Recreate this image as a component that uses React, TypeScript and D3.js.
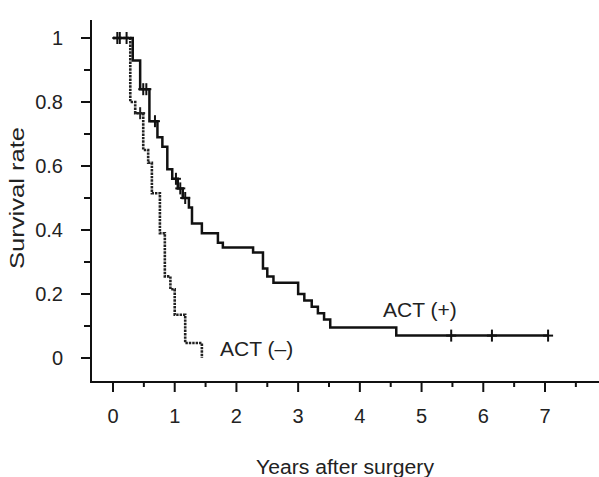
import React from "react";
import * as d3 from "d3";

const W = 599;
const H = 477;

const xTicks = [0, 1, 2, 3, 4, 5, 6, 7];
const xMinorTicks = [0.5, 1.5, 2.5, 3.5, 4.5, 5.5, 6.5, 7.5];
const yTicks = [0, 0.2, 0.4, 0.6, 0.8, 1];
const yTickLabels = ["0", "0.2", "0.4", "0.6", "0.8", "1"];
const yMinorTicks = [0.1, 0.3, 0.5, 0.7, 0.9];

// ACT (+) : event times (years) and survival after each event
const actPosTimes = [0.32, 0.44, 0.59, 0.72, 0.8, 0.88, 0.96, 1.05, 1.13, 1.23, 1.28, 1.44, 1.7, 1.78, 2.27, 2.43, 2.5, 2.6, 3.0, 3.1, 3.22, 3.32, 3.42, 3.52, 4.59];
const actPosSurv = [0.93, 0.84, 0.74, 0.69, 0.66, 0.59, 0.56, 0.53, 0.5, 0.47, 0.42, 0.39, 0.36, 0.345, 0.33, 0.28, 0.255, 0.235, 0.2, 0.18, 0.16, 0.14, 0.12, 0.095, 0.07];
const actPosEnd = 7.05;
const actPosCensor = [0.07, 0.11, 0.22, 0.49, 0.54, 0.68, 1.02, 1.09, 1.17, 5.48, 6.14, 7.05];

// ACT (-)
const actNegTimes = [0.28, 0.36, 0.49, 0.57, 0.63, 0.76, 0.84, 0.93, 1.0, 1.17, 1.44];
const actNegSurv = [0.8, 0.765, 0.65, 0.61, 0.515, 0.39, 0.255, 0.215, 0.135, 0.047, 0.0];
const actNegEnd = 1.44;
const actNegCensor = [0.44];

const FONT = "'Liberation Sans', Arial, Helvetica, sans-serif";

function survAt(times: number[], surv: number[], t: number) {
  let s = 1;
  for (let i = 0; i < times.length; i++) if (times[i] <= t) s = surv[i];
  return s;
}

export default function App() {
  const x = d3.scaleLinear().domain([0, 7]).range([113, 545]);
  const y = d3.scaleLinear().domain([0, 1]).range([358, 38]);
  const axisX0 = 91;
  const axisY0 = 382;
  const axisTop = 20;
  const axisRight = 599;

  const line = d3
    .line<[number, number]>()
    .x((d) => x(d[0]))
    .y((d) => y(d[1]))
    .curve(d3.curveStepAfter);

  const mkPts = (times: number[], surv: number[], end: number): [number, number][] => {
    const pts: [number, number][] = [[0, 1]];
    times.forEach((t, i) => pts.push([t, surv[i]]));
    pts.push([end, surv[surv.length - 1]]);
    return pts;
  };

  const posPath = line(mkPts(actPosTimes, actPosSurv, actPosEnd)) || "";
  const negPath = line(mkPts(actNegTimes, actNegSurv, actNegEnd)) || "";

  return (
    <svg
      width={W}
      height={H}
      style={{ position: "absolute", left: 0, top: 0, background: "#fff" }}
      fontFamily={FONT}
    >
      <rect x={0} y={0} width={W} height={H} fill="#fff" />
      {/* axes */}
      <path
        d={`M${axisX0},${axisTop}V${axisY0}H${axisRight}`}
        fill="none"
        stroke="#111"
        strokeWidth={2}
      />
      {yTicks.map((v, i) => (
        <g key={"yt" + i}>
          <line x1={axisX0 - 10} x2={axisX0} y1={y(v)} y2={y(v)} stroke="#111" strokeWidth={2} />
          <text x={63} y={y(v)} dy="0.36em" textAnchor="end" fontSize={20} fill="#222">
            {yTickLabels[i]}
          </text>
        </g>
      ))}
      {yMinorTicks.map((v, i) => (
        <line key={"ym" + i} x1={axisX0 - 7} x2={axisX0} y1={y(v)} y2={y(v)} stroke="#111" strokeWidth={2} />
      ))}
      {xTicks.map((v, i) => (
        <g key={"xt" + i}>
          <line x1={x(v)} x2={x(v)} y1={axisY0} y2={axisY0 + 10} stroke="#111" strokeWidth={2} />
          <text x={x(v)} y={423} textAnchor="middle" fontSize={20} fill="#222">
            {String(v)}
          </text>
        </g>
      ))}
      {xMinorTicks.map((v, i) => (
        <line key={"xm" + i} x1={x(v)} x2={x(v)} y1={axisY0} y2={axisY0 + 5} stroke="#111" strokeWidth={2} />
      ))}
      <text x={345} y={474} textAnchor="middle" fontSize={20} fill="#222" textLength={178} lengthAdjust="spacingAndGlyphs">
        Years after surgery
      </text>
      <text
        transform="translate(24,198) rotate(-90)"
        textAnchor="middle"
        fontSize={21}
        fill="#222"
        textLength={142}
        lengthAdjust="spacingAndGlyphs"
      >
        Survival rate
      </text>

      {/* curves */}
      <path d={negPath} fill="none" stroke="#222" strokeWidth={2.6} strokeDasharray="2.4,1" />
      {actNegCensor.map((t, i) => {
        const s = survAt(actNegTimes, actNegSurv, t);
        return (
          <g key={"nc" + i} stroke="#222" strokeWidth={2}>
            <line x1={x(t)} x2={x(t)} y1={y(s) - 6} y2={y(s) + 6} />
            <line x1={x(t) - 5} x2={x(t) + 5} y1={y(s)} y2={y(s)} />
          </g>
        );
      })}
      <path d={posPath} fill="none" stroke="#111" strokeWidth={2.5} />
      {actPosCensor.map((t, i) => {
        const s = survAt(actPosTimes, actPosSurv, t);
        return (
          <g key={"pc" + i} stroke="#111" strokeWidth={2}>
            <line x1={x(t)} x2={x(t)} y1={y(s) - 6} y2={y(s) + 6} />
            <line x1={x(t) - 5} x2={x(t) + 5} y1={y(s)} y2={y(s)} />
          </g>
        );
      })}

      <text x={383} y={317} fontSize={21} fill="#222">
        ACT (+)
      </text>
      <text x={220} y={356} fontSize={21} fill="#222">
        ACT (–)
      </text>
    </svg>
  );
}
